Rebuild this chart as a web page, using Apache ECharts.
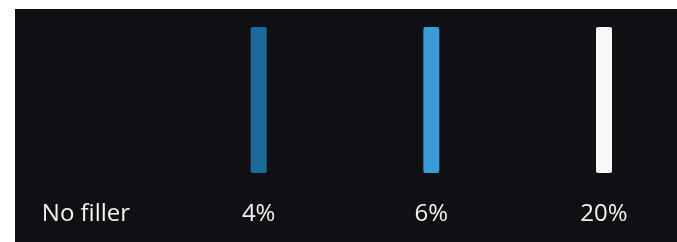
<!DOCTYPE html>
<html>
<head>
<meta charset="utf-8">
<script src="https://cdn.jsdelivr.net/npm/echarts@6/dist/echarts.min.js"></script>
<style>
html,body{margin:0;padding:0;background:#ffffff;}
#chart{position:absolute;left:15px;top:9px;width:662px;height:233px;}
</style>
</head>
<body>
<div id="chart"></div>
<script>
var categories = ["No filler", "4%", "6%", "20%"];
var barValues = [null, 1, 1, 1];
var barColors = ["#0e1013", "#1c6a9c", "#3b9ad9", "#f8f8f8"];

var chart = echarts.init(document.getElementById('chart'));
chart.setOption({
  backgroundColor: '#0e1013',
  animation: false,
  grid: {left: 71, right: 73, top: 18, bottom: 69, containLabel: false},
  xAxis: {
    type: 'category',
    data: categories,
    boundaryGap: false,
    axisLine: {show: false},
    axisTick: {show: false},
    splitLine: {show: false},
    axisLabel: {
      color: '#f2f2f2',
      fontFamily: 'Open Sans',
      fontSize: 24,
      margin: 29,
      interval: 0
    }
  },
  yAxis: {
    type: 'value',
    min: 0,
    max: 1,
    show: false
  },
  series: [{
    type: 'bar',
    barWidth: 16,
    data: barValues.map(function (v, i) {
      return {value: v, itemStyle: {color: barColors[i], borderRadius: 2}};
    })
  }]
});
</script>
</body>
</html>
